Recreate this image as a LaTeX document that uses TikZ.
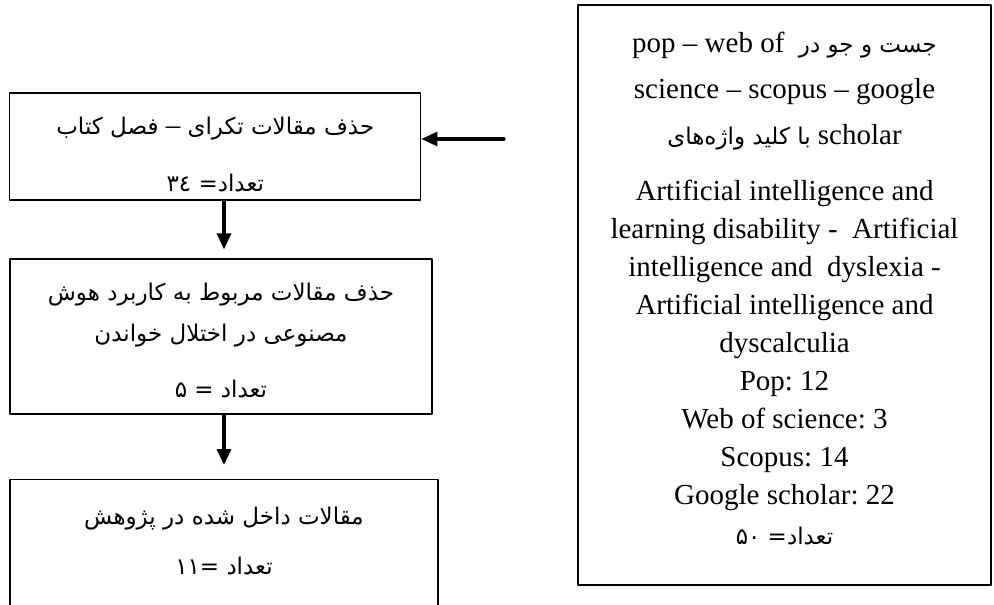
\documentclass[tikz,border=0pt]{standalone}
\usepackage{fontspec}
\setmainfont{Liberation Serif}
\newfontfamily\farsifont[Script=Arabic]{DejaVu Sans}
\usepackage{tikz}
\usetikzlibrary{arrows.meta}
\TeXXeTstate=1
\frenchspacing
\newcommand{\fa}[1]{{\farsifont\fontsize{11.5}{19}\selectfont #1}}

\begin{document}
\begin{tikzpicture}[line cap=round,line join=round,x=0.5pt,y=-0.5pt,
  flow/.style={-{Triangle[length=8pt,width=7pt]},line width=1.6pt},
  stepbox/.style={draw,line width=0.6pt,inner sep=0pt},
  searchbox/.style={stepbox,line width=1.2pt},
  steptext/.style={inner sep=0pt,align=center,font=\fontsize{14.5}{19}\selectfont}]
\useasboundingbox (0,0) rectangle (994,604);
\clip (0,0) rectangle (994,604);
% boxes
\node[searchbox,minimum width=206.5pt,minimum height=290pt] (search) at (784.5,295) {};
\node[stepbox,minimum width=205.5pt,minimum height=53.5pt] (dup) at (215.3,146.5) {};
\node[stepbox,minimum width=211pt,minimum height=77.5pt] (relevant) at (221,336.5) {};
\node[stepbox,minimum width=214pt,minimum height=66.5pt,anchor=north] (included) at (224,479) {};
% texts
\node[steptext] (searchtxt) at (784.5,288.5) {%
\beginR\fa{جست و جو در}\ \ \beginL pop – web of\endL\endR\\[4pt]
science – scopus – google\\[4pt]
\beginR\beginL scholar\endL\ \fa{با کلید واژه‌های}\endR\\[9pt]
Artificial intelligence and\\
learning disability -\ \ Artificial\\
intelligence and\ \ dyslexia -\\
Artificial intelligence and\\
dyscalculia\\
Pop: 12\\
Web of science: 3\\
Scopus: 14\\
Google scholar: 22\\[1pt]
\beginR\fa{تعداد}\kern0pt\fa{=}\ \fa{۵۰}\endR};
\node[steptext] (duptxt) at (215.3,154.5) {%
\beginR\fa{حذف مقالات تکرای}\ {–}\ \fa{فصل کتاب}\endR\\[9.5pt]
\beginR\fa{تعداد}\kern0pt\fa{=}\ \fa{٣٤}\endR};
\node[steptext] (relevanttxt) at (221,340.5) {%
\beginR\fa{حذف مقالات مربوط به کاربرد هوش}\endR\\[1.5pt]
\beginR\fa{مصنوعی در اختلال خواندن}\endR\\[9pt]
\beginR\fa{تعداد}\ \fa{=}\ \fa{۵}\endR};
\node[steptext] (includedtxt) at (224,540.5) {%
\beginR\fa{مقالات داخل شده در پژوهش}\endR\\[6pt]
\beginR\fa{تعداد}\ \fa{=}\kern0pt\fa{۱۱}\endR};
% arrows
\coordinate (src) at (504,139);
\coordinate (ax) at (224,0);
\draw[flow] (src) -- (src -| dup.east);
\draw[flow,shorten >=4.5pt] (dup.south -| ax) -- (relevant.north -| ax);
\draw[flow,shorten >=7pt] (relevant.south -| ax) -- (included.north -| ax);
\end{tikzpicture}
\end{document}
